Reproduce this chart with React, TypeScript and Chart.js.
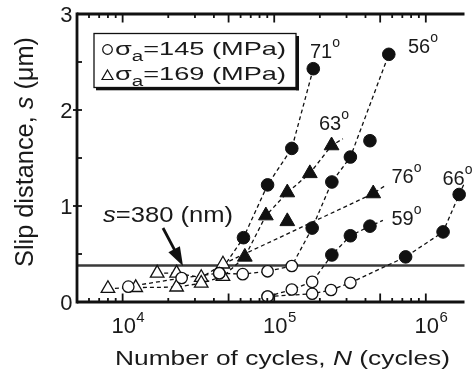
import React, { useEffect, useRef } from 'react';
import { Chart, registerables } from 'chart.js';

Chart.register(...registerables);

// ---------- axis ranges ----------
const X_MIN = 5000;
const X_MAX = 1.8e6;
const Y_MIN = 0;
const Y_MAX = 3;
const THRESHOLD_S = 0.38; // 380 nm

// ---------- tick values ----------
const X_TALL_TICKS = [1e4, 5e4, 1e5, 5e5, 1e6];
const X_SHORT_TICKS = [6e3, 7e3, 8e3, 9e3, 2e4, 3e4, 4e4, 6e4, 7e4, 8e4, 9e4, 2e5, 3e5, 4e5, 6e5, 7e5, 8e5, 9e5];
const X_LABEL_EXPONENTS = [4, 5, 6];
const Y_MAJOR_TICKS = [0, 1, 2, 3];
const Y_MINOR_TICKS = [0.5, 1.5, 2.5];

// ---------- data chains (N cycles, s in µm, marker type) ----------
// marker: oc = open circle, fc = filled circle, ot = open triangle, ft = filled triangle, '-' = line end only
type Mk = 'oc' | 'fc' | 'ot' | 'ft' | '-';

const chain71N = [10900, 24500, 43400, 62700, 90400, 130600, 181000];
const chain71S = [0.16, 0.25, 0.30, 0.67, 1.22, 1.60, 2.43];
const chain71M: Mk[] = ['oc', 'oc', 'oc', 'fc', 'fc', 'fc', 'fc'];

const chain56N = [43400, 62000, 90400, 130600, 178000, 240000, 318000, 570000];
const chain56S = [0.30, 0.29, 0.32, 0.375, 0.77, 1.25, 1.51, 2.58];
const chain56M: Mk[] = ['oc', 'oc', 'oc', 'oc', 'fc', 'fc', 'fc', 'fc'];

const chain59N = [90400, 130600, 178000, 240000, 318000, 428000, 521000];
const chain59S = [0.057, 0.13, 0.21, 0.49, 0.69, 0.79, 0.85];
const chain59M: Mk[] = ['oc', 'oc', 'oc', 'fc', 'fc', 'fc', '-'];

const chain66N = [90400, 178000, 237000, 318000, 736000, 1.30e6, 1.66e6, 1.8e6];
const chain66S = [0.057, 0.086, 0.125, 0.20, 0.47, 0.73, 1.12, 1.24];
const chain66M: Mk[] = ['oc', 'oc', 'oc', 'oc', 'fc', 'fc', 'fc', '-'];

const chain63N = [8000, 12200, 22700, 33000, 45900, 64000, 88100, 122000, 171800, 239000, 283800];
const chain63S = [0.14, 0.15, 0.155, 0.195, 0.265, 0.47, 0.90, 1.14, 1.34, 1.63, 1.70];
const chain63M: Mk[] = ['ot', 'ot', 'ot', 'ot', 'ot', 'ft', 'ft', 'ft', 'ft', 'ft', '-'];

const chain76N = [16900, 22700, 33000, 45900, 450000, 537000];
const chain76S = [0.30, 0.30, 0.255, 0.395, 1.13, 1.21];
const chain76M: Mk[] = ['ot', 'ot', 'ot', 'ot', 'ft', '-'];

const extraN = [122000, 428000];
const extraS = [0.84, 1.68];
const extraM: Mk[] = ['ft', 'fc'];

// ---------- texts ----------
const ANGLE_TEXTS = ['71', '56', '63', '76', '59', '66'];
const ANGLE_POS = [
  [310, 57.5], [408, 52.5], [319, 130], [391.5, 182.5], [391.5, 225], [442.5, 185],
];
const LEGEND_VALUES = ['145', '169'];

const FONT = '"Liberation Sans", Arial, Helvetica, sans-serif';
const INK = '#1a1a1a';

type Seg = { t: string; size: number; italic?: boolean; dy?: number };
const fontOf = (s: Seg) => `${s.italic ? 'italic ' : ''}${s.size}px ${FONT}`;

function drawRich(
  ctx: CanvasRenderingContext2D,
  segs: Seg[],
  x: number,
  y: number,
  align: 'left' | 'center' | 'right' = 'left',
  width?: number,
) {
  ctx.save();
  let nat = 0;
  const ws = segs.map((s) => {
    ctx.font = fontOf(s);
    const w = ctx.measureText(s.t).width;
    nat += w;
    return w;
  });
  const sx = width ? width / nat : 1;
  const total = nat * sx;
  const x0 = align === 'left' ? x : align === 'center' ? x - total / 2 : x - total;
  ctx.translate(x0, y);
  ctx.scale(sx, 1);
  ctx.textAlign = 'left';
  ctx.textBaseline = 'alphabetic';
  ctx.fillStyle = INK;
  let cx = 0;
  segs.forEach((s, i) => {
    ctx.font = fontOf(s);
    ctx.fillText(s.t, cx, s.dy || 0);
    cx += ws[i];
  });
  ctx.restore();
}

function seg(ctx: CanvasRenderingContext2D, x1: number, y1: number, x2: number, y2: number) {
  ctx.beginPath();
  ctx.moveTo(x1, y1);
  ctx.lineTo(x2, y2);
  ctx.stroke();
}

function chainDatasets(ns: number[], ss: number[], ms: Mk[], withLine = true) {
  const data = ns.map((n, i) => ({ x: n, y: ss[i] }));
  const out: any[] = [];
  if (withLine) {
    out.push({
      data,
      showLine: true,
      borderColor: '#111',
      borderWidth: 1.3,
      borderDash: [4, 3],
      pointRadius: 0,
      fill: false,
      order: 3,
      clip: false,
    });
  }
  out.push({
    data,
    showLine: false,
    order: ms.some((m) => m === 'oc' || m === 'ot') ? 2 : 1,
    clip: false,
    pointStyle: ms.map((m) => (m === 'ot' || m === 'ft' ? 'triangle' : 'circle')),
    pointRadius: ms.map((m) => (m === '-' ? 0 : m === 'fc' ? 6.3 : m === 'oc' ? 5.7 : m === 'ft' ? 8.5 : 7.8)),
    pointBackgroundColor: ms.map((m) => (m === 'fc' || m === 'ft' ? '#111' : '#fff')),
    pointBorderColor: '#111',
    pointBorderWidth: ms.map((m) => (m === 'fc' || m === 'ft' ? 1 : 1.3)),
  });
  return out;
}

const overlayPlugin = {
  id: 'overlay',
  beforeDatasetsDraw(chart: any) {
    const { ctx, chartArea: ca, scales } = chart;
    const y = scales.y.getPixelForValue(THRESHOLD_S);
    ctx.save();
    ctx.strokeStyle = '#3a3a3a';
    ctx.lineWidth = 2.6;
    seg(ctx, ca.left, y, ca.right, y);
    ctx.restore();
  },
  afterDraw(chart: any) {
    const { ctx, chartArea: ca, scales } = chart;
    const xs = scales.x;
    const ys = scales.y;
    ctx.save();
    ctx.strokeStyle = '#111';
    ctx.lineCap = 'butt';

    // axes
    ctx.lineWidth = 2.8;
    seg(ctx, ca.left, ca.top - 1.4, ca.left, ca.bottom + 1.4);
    seg(ctx, ca.left, ca.bottom, ca.right, ca.bottom);
    seg(ctx, ca.left, ca.top, ca.right, ca.top);

    // x ticks (bottom & top, inward)
    ctx.lineWidth = 1.8;
    X_TALL_TICKS.forEach((v) => {
      const px = xs.getPixelForValue(v);
      seg(ctx, px, ca.bottom, px, ca.bottom - 8.5);
      seg(ctx, px, ca.top, px, ca.top + 8.5);
    });
    X_SHORT_TICKS.forEach((v) => {
      const px = xs.getPixelForValue(v);
      seg(ctx, px, ca.bottom, px, ca.bottom - 4);
      seg(ctx, px, ca.top, px, ca.top + 4);
    });
    // y ticks
    Y_MAJOR_TICKS.forEach((v) => {
      const py = ys.getPixelForValue(v);
      if (v !== Y_MIN && v !== Y_MAX) seg(ctx, ca.left - 4, py, ca.left + 5, py);
    });
    Y_MINOR_TICKS.forEach((v) => {
      const py = ys.getPixelForValue(v);
      seg(ctx, ca.left, py, ca.left + 5, py);
    });

    // y tick labels
    Y_MAJOR_TICKS.forEach((v) => {
      const py = ys.getPixelForValue(v);
      drawRich(ctx, [{ t: String(v), size: 22 }], ca.left - 4.5, py + 8, 'right');
    });

    // x tick labels: 10^n
    X_LABEL_EXPONENTS.forEach((e) => {
      const px = xs.getPixelForValue(Math.pow(10, e));
      ctx.font = `22px ${FONT}`;
      const w = ctx.measureText('10').width;
      drawRich(ctx, [{ t: '10', size: 22 }], px + 1, 333, 'center');
      drawRich(ctx, [{ t: String(e), size: 15 }], px + 1 + w / 2 + 0.5, 322, 'left');
    });

    // axis titles
    drawRich(
      ctx,
      [
        { t: 'Number of cycles, ', size: 21 },
        { t: 'N', size: 21, italic: true },
        { t: ' (cycles)', size: 21 },
      ],
      282.5,
      365,
      'center',
      335,
    );
    ctx.save();
    ctx.translate(33, 152);
    ctx.rotate(-Math.PI / 2);
    drawRich(
      ctx,
      [
        { t: 'Slip distance, ', size: 25 },
        { t: 's', size: 25, italic: true },
        { t: ' (μm)', size: 25 },
      ],
      0,
      0,
      'center',
      230,
    );
    ctx.restore();

    // legend box with shadow
    ctx.fillStyle = '#111';
    ctx.fillRect(96, 87.5, 203, 2.8);
    ctx.fillRect(296, 36, 3, 54.3);
    ctx.fillStyle = '#fff';
    ctx.fillRect(94, 33.5, 202, 54);
    ctx.lineWidth = 1.3;
    ctx.strokeStyle = '#111';
    ctx.strokeRect(94, 33.5, 202, 54);
    // legend markers
    ctx.lineWidth = 1.2;
    ctx.beginPath();
    ctx.arc(107.5, 49.5, 4.8, 0, Math.PI * 2);
    ctx.stroke();
    ctx.beginPath();
    ctx.moveTo(107.5, 70);
    ctx.lineTo(113, 79.5);
    ctx.lineTo(102, 79.5);
    ctx.closePath();
    ctx.stroke();
    // legend texts
    LEGEND_VALUES.forEach((val, i) => {
      drawRich(
        ctx,
        [
          { t: 'σ', size: 18.5 },
          { t: 'a', size: 14, dy: 6 },
          { t: `=${val} (MPa)`, size: 18.5 },
        ],
        115,
        55 + i * 25,
        'left',
        171,
      );
    });

    // angle labels
    ANGLE_TEXTS.forEach((t, i) => {
      const [x, y] = ANGLE_POS[i];
      drawRich(ctx, [{ t, size: 20 }, { t: 'o', size: 14, dy: -10.6 }], x, y, 'left');
    });

    // s=380 (nm) annotation with arrow
    drawRich(
      ctx,
      [
        { t: 's', size: 22, italic: true },
        { t: '=380 (nm)', size: 22 },
      ],
      103,
      222,
      'left',
      130,
    );
    const ax1 = 163, ay1 = 228, ax2 = 183, ay2 = 266;
    const dx = ax2 - ax1, dy = ay2 - ay1;
    const len = Math.hypot(dx, dy);
    const ux = dx / len, uy = dy / len;
    const hl = 19, hw = 6.5;
    const bx = ax2 - ux * hl, by = ay2 - uy * hl;
    ctx.strokeStyle = '#111';
    ctx.lineWidth = 2.8;
    seg(ctx, ax1, ay1, bx + ux * 2, by + uy * 2);
    ctx.fillStyle = '#111';
    ctx.beginPath();
    ctx.moveTo(ax2, ay2);
    ctx.lineTo(bx - uy * hw, by + ux * hw);
    ctx.lineTo(bx + uy * hw, by - ux * hw);
    ctx.closePath();
    ctx.fill();

    ctx.restore();
  },
};

export default function App() {
  const ref = useRef<HTMLCanvasElement>(null);
  useEffect(() => {
    if (!ref.current) return;
    const datasets = [
      ...chainDatasets(chain71N, chain71S, chain71M),
      ...chainDatasets(chain56N, chain56S, chain56M),
      ...chainDatasets(chain59N, chain59S, chain59M),
      ...chainDatasets(chain66N, chain66S, chain66M),
      ...chainDatasets(chain63N, chain63S, chain63M),
      ...chainDatasets(chain76N, chain76S, chain76M),
      ...chainDatasets(extraN, extraS, extraM, false),
    ];
    const chart = new Chart(ref.current, {
      type: 'scatter',
      data: { datasets },
      options: {
        responsive: false,
        animation: false,
        devicePixelRatio: 1,
        layout: { padding: { top: 14, right: 0, left: 0, bottom: 0 } },
        plugins: { legend: { display: false }, tooltip: { enabled: false } },
        scales: {
          x: {
            type: 'logarithmic',
            min: X_MIN,
            max: X_MAX,
            grid: { display: false },
            border: { display: false },
            ticks: { display: false },
            afterFit: (s: any) => {
              s.height = 72;
            },
          },
          y: {
            type: 'linear',
            min: Y_MIN,
            max: Y_MAX,
            grid: { display: false },
            border: { display: false },
            ticks: { display: false },
            afterFit: (s: any) => {
              s.width = 77;
            },
          },
        },
      } as any,
      plugins: [overlayPlugin],
    });
    return () => chart.destroy();
  }, []);
  return (
    <div style={{ position: 'absolute', left: 0, top: 0, width: 474, height: 374, background: '#fff', overflow: 'hidden' }}>
      <canvas ref={ref} width={474} height={374} style={{ display: 'block', width: 474, height: 374 }} />
    </div>
  );
}
